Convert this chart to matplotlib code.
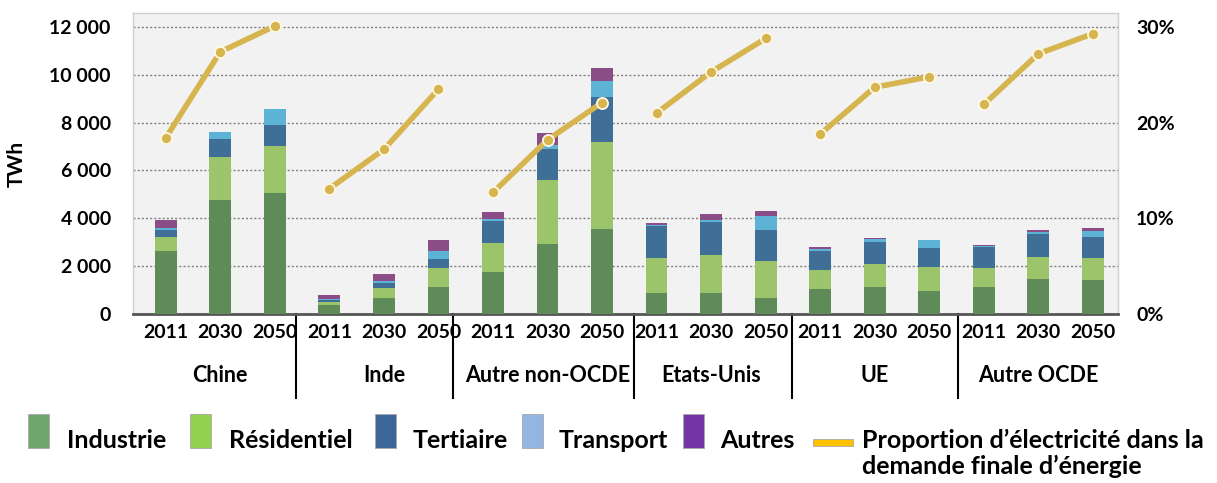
import matplotlib
matplotlib.use('Agg')
import matplotlib.pyplot as plt
import matplotlib.transforms as mtransforms
from matplotlib.patches import Rectangle
from matplotlib.lines import Line2D
import numpy as np

plt.rcParams['font.family'] = ['Lato', 'DejaVu Sans']

# ---------------- data ----------------
groups = ["Chine", "Inde", "Autre non-OCDE", "Etats-Unis", "UE", "Autre OCDE"]
years = ["2011", "2030", "2050"]

industrie   = [2620, 4750, 5060,  360,  655, 1130, 1740, 2930, 3555,  890,  890,  655, 1045, 1115,  975, 1130, 1480, 1435]
residentiel = [ 600, 1800, 1950,  140,  446,  780, 1240, 2690, 3625, 1450, 1560, 1550,  780,  975, 1000,  780,  890,  890]
tertiaire   = [ 305,  780,  880,   70,  180,  390,  890, 1280, 1895, 1325, 1380, 1325,  825,  935,  780,  890,  975,  890]
transport   = [  55,  265,  700,   70,  100,  335,  100,  155,  670,   55,  110,  585,   70,  110,  320,   30,   85,  265]
autres      = [ 335,    0,    0,  170,  280,  475,  290,  515,  545,   70,  235,  195,   85,   30,   30,   40,   70,  100]

# share of electricity in final energy demand (%)
proportion  = [18.4, 27.4, 30.1, 13.1, 17.2, 23.5, 12.7, 18.2, 22.1,
               21.0, 25.3, 28.8, 18.8, 23.7, 24.8, 21.9, 27.2, 29.3]

series_names = ["Industrie", "Résidentiel", "Tertiaire", "Transport", "Autres"]
line_name = "Proportion d’électricité dans la\ndemande finale d’énergie"

y_ticks = [0, 2000, 4000, 6000, 8000, 10000, 12000]
y_ticklabels = ["0", "2 000", "4 000", "6 000", "8 000", "10 000", "12 000"]
y2_ticks = [0, 10, 20, 30]
y2_ticklabels = ["0%", "10%", "20%", "30%"]

# ---------------- style ----------------
bar_colors = ["#5E8B57", "#9BC46B", "#3F6E97", "#5DB3D6", "#8A4D86"]
legend_colors = ["#6EA66E", "#92D050", "#3C6698", "#93B6E0", "#7434A3"]
line_color = "#D6B54E"
legend_line_color = "#FFC000"
separator_pos = [2.39, 5.27, 8.58, 11.48, 14.52]   # layout positions of group dividers

W, H = 1217, 483
fig = plt.figure(figsize=(W / 100, H / 100), dpi=100)
L, R, T, B = 133, 1118, 13, 314
ax = fig.add_axes([L / W, 1 - B / H, (R - L) / W, (B - T) / H])
ax.set_facecolor("#F2F2F2")

n = len(industrie)
x = np.arange(n)
bottom = np.zeros(n)
for vals, col in zip([industrie, residentiel, tertiaire, transport, autres], bar_colors):
    ax.bar(x, vals, width=0.40, bottom=bottom, color=col, linewidth=0, zorder=3)
    bottom += np.array(vals)

ymax = 12585
ax.set_ylim(0, ymax)
ax.set_xlim(-0.6, 17.46)
ax.set_yticks(y_ticks)
ax.set_yticklabels(y_ticklabels, fontsize=14, fontweight="bold")
ax.set_xticks(x)
ax.set_xticklabels(years * len(groups), fontsize=14, fontweight="bold")
ax.tick_params(axis="both", length=0)
ax.tick_params(axis="y", pad=16)
ax.tick_params(axis="x", pad=7)
ax.yaxis.grid(True, linestyle=(0, (1.5, 1.5)), color="#808080", linewidth=1)
ax.set_axisbelow(True)
for s in ["top", "left", "right"]:
    ax.spines[s].set_color("#D0D0D0")
    ax.spines[s].set_linewidth(1)
ax.spines["bottom"].set_color("#555555")
ax.spines["bottom"].set_linewidth(2)
ax.set_ylabel("TWh", fontsize=15, fontweight="bold")
ax.yaxis.set_label_coords(-0.108, 0.5)

# group labels and separators
trans = mtransforms.blended_transform_factory(ax.transData, ax.transAxes)
for g, name in enumerate(groups):
    ax.text(3 * g + 1, -0.205, name, transform=trans, ha="center", va="center",
            fontsize=15.5, fontweight="bold")
for sx in separator_pos:
    ax.add_line(Line2D([sx, sx], [0, -0.279], transform=trans,
                       color="black", linewidth=1.5, clip_on=False))

# secondary axis with proportion lines
ax2 = ax.twinx()
ax2.set_ylim(0, ymax / 400)
ax2.set_yticks(y2_ticks)
ax2.set_yticklabels(y2_ticklabels, fontsize=14, fontweight="bold")
ax2.tick_params(axis="y", length=0, pad=13)
for s in ax2.spines.values():
    s.set_visible(False)
prop = np.array(proportion)
for g in range(len(groups)):
    sl = slice(3 * g, 3 * g + 3)
    ax2.plot(x[sl], prop[sl], color=line_color, linewidth=4, marker="o",
             markersize=8, markerfacecolor=line_color, markeredgecolor="#FFF8E6",
             markeredgewidth=1.3, solid_capstyle="butt", zorder=5)

# ---------------- legend (manual, figure pixel coordinates) ----------------
def px_rect(x0, y0, x1, y1, color):
    fig.add_artist(Rectangle((x0 / W, 1 - y1 / H), (x1 - x0) / W, (y1 - y0) / H,
                             transform=fig.transFigure, facecolor=color,
                             edgecolor="#A8A8A8", linewidth=0.6))

rect_x = [28, 190, 375, 522, 683]
text_x = [67, 229, 413, 559, 720]
for name, col, rx, tx in zip(series_names, legend_colors, rect_x, text_x):
    px_rect(rx, 414, rx + 21, 448, col)
    fig.text(tx / W, 1 - 448 / H, name, ha="left", va="baseline",
             fontsize=18, fontweight="bold")
px_rect(813, 439, 853, 446, legend_line_color)
l1, l2 = line_name.split("\n")
fig.text(862 / W, 1 - 448 / H, l1, ha="left", va="baseline", fontsize=18, fontweight="bold")
fig.text(862 / W, 1 - 474 / H, l2, ha="left", va="baseline", fontsize=18, fontweight="bold")

fig.savefig("out.png", dpi=100)
